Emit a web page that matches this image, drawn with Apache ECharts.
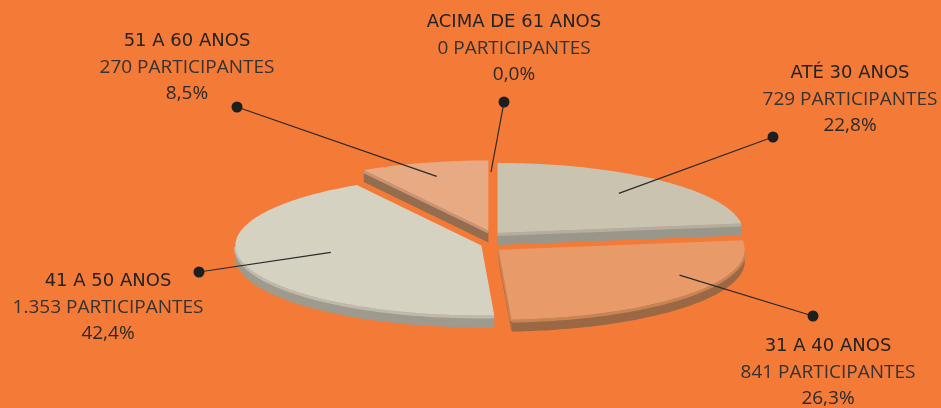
<!DOCTYPE html>
<html><head><meta charset="utf-8">
<script src="https://cdn.jsdelivr.net/npm/echarts@6/dist/echarts.min.js"></script>
<style>html,body{margin:0;padding:0;background:#F47A38}#c{width:941px;height:408px}</style>
</head><body><div id="c"></div>
<script>
// ---- data ----
const categories = ['ATÉ 30 ANOS', '31 A 40 ANOS', '41 A 50 ANOS', '51 A 60 ANOS', 'ACIMA DE 61 ANOS'];
const participants = [729, 841, 1353, 270, 0];

// ---- style / layout ----
const topColors  = ['#C9C3AF', '#E89A68', '#D6D2C2', '#E8AA82', '#E8AA82'];
const sideColors = ['#9A968A', '#9B6843', '#9E9A8E', '#946C50', '#946C50'];
const rimColors  = ['#B3AE9F', '#C98456', '#BDB9AB', '#C99473', '#C99473'];
const labelPos   = [[850, 73], [828, 346], [108, 281], [187, 41], [514, 22]];
const dotPos     = [[773, 137], [813, 316], [199, 272], [237, 107], [504, 102]];
const anchorT    = [0.5, 0.36, 0.55, 0.5, 1];
const anchorR    = [0.75, 0.82, 0.62, 0.8, 1];
const CX = 491, CY = 242, RX = 246, RY = 70, DEPTH = 12, EX = 10, EY = 12;
const LINE_GAP = 26.5;
const FONT = '"Open Sans", "Noto Sans", sans-serif';
const HEAD_FONT = '"DejaVu Sans", "Open Sans", sans-serif';

const total = participants.reduce((a, b) => a + b, 0);
const fmtInt = v => String(v).replace(/\B(?=(\d{3})+(?!\d))/g, '.');
const fmtPct = v => (v / total * 100).toFixed(1).replace('.', ',') + '%';

// cumulative angles (degrees, clockwise from 12 o'clock)
const angles = [];
{ let acc = 0; participants.forEach(v => { const a = acc / total * 360; acc += v; angles.push([a, acc / total * 360]); }); }

const rad = d => d * Math.PI / 180;
function pt(sx, sy, deg, r, dy) {
  return [sx + RX * r * Math.sin(rad(deg)), sy - RY * r * Math.cos(rad(deg)) + (dy || 0)];
}
function arc(sx, sy, a, b, dy) {
  const pts = []; const n = Math.max(2, Math.ceil(b - a));
  for (let i = 0; i <= n; i++) pts.push(pt(sx, sy, a + (b - a) * i / n, 1, dy));
  return pts;
}

function renderItem(params, api) {
  const i = params.dataIndex;
  const v = api.value(0);
  const [a, b] = angles[i];
  const mid = (a + b) / 2;
  const children = [];
  const sx = CX + EX * Math.sin(rad(mid)) * (v > 0 ? 1 : 0);
  const sy = CY - EY * Math.cos(rad(mid)) * (v > 0 ? 1 : 0);
  if (v > 0) {
    const base = Math.round((1 - Math.cos(rad(mid))) * 100);
    const lo = Math.max(a, 90), hi = Math.min(b, 270);
    if (lo < hi) {
      const pts = arc(sx, sy, lo, hi, 0).concat(arc(sx, sy, lo, hi, DEPTH).reverse());
      children.push({ type: 'polygon', z2: base, shape: { points: pts }, style: { fill: sideColors[i] } });
      children.push({ type: 'polyline', z2: base + 1, shape: { points: arc(sx, sy, lo, hi, 1.5) }, style: { stroke: rimColors[i], lineWidth: 3, fill: null } });
    }
    if (a > 180 && a < 360) {
      const p = pt(sx, sy, a, 1);
      children.push({ type: 'polygon', z2: base, shape: { points: [[sx, sy], p, [p[0], p[1] + DEPTH], [sx, sy + DEPTH]] }, style: { fill: sideColors[i] } });
      children.push({ type: 'line', z2: base + 1, shape: { x1: sx, y1: sy + 1.5, x2: p[0], y2: p[1] + 1.5 }, style: { stroke: rimColors[i], lineWidth: 3 } });
    }
    if (b > 0 && b < 180) {
      const p = pt(sx, sy, b, 1);
      children.push({ type: 'polygon', z2: base, shape: { points: [[sx, sy], p, [p[0], p[1] + DEPTH], [sx, sy + DEPTH]] }, style: { fill: sideColors[i] } });
      children.push({ type: 'line', z2: base + 1, shape: { x1: sx, y1: sy + 1.5, x2: p[0], y2: p[1] + 1.5 }, style: { stroke: rimColors[i], lineWidth: 3 } });
    }
    const topPts = [[sx, sy]].concat(arc(sx, sy, a, b, 0));
    children.push({ type: 'polygon', z2: base + 2, shape: { points: topPts }, style: { fill: topColors[i] } });
  }
  const ang = a + (b - a) * anchorT[i];
  const anc = pt(sx, sy, ang, anchorR[i]);
  const dot = dotPos[i];
  children.push({ type: 'line', z2: 1000, shape: { x1: dot[0], y1: dot[1], x2: anc[0], y2: anc[1] }, style: { stroke: '#2a2a2a', lineWidth: 1.2 } });
  children.push({ type: 'circle', z2: 1001, shape: { cx: dot[0], cy: dot[1], r: 5.5 }, style: { fill: '#1e1e1e' } });
  const lp = labelPos[i];
  const lines = [
    { t: categories[i], f: HEAD_FONT, s: 18, c: '#232323' },
    { t: fmtInt(v) + ' PARTICIPANTES', f: FONT, s: 19, c: '#333333' },
    { t: fmtPct(v), f: FONT, s: 19, c: '#2a2a2a' }
  ];
  lines.forEach((L, k) => {
    children.push({ type: 'text', z2: 1002, style: {
      text: L.t, x: lp[0], y: lp[1] + k * LINE_GAP, align: 'center', verticalAlign: 'middle',
      fill: L.c, fontSize: L.s, fontFamily: L.f, fontWeight: 'normal'
    } });
  });
  return { type: 'group', children };
}

const chart = echarts.init(document.getElementById('c'), null, { renderer: 'canvas' });
chart.setOption({
  backgroundColor: '#F47A38',
  animation: false,
  series: [{
    type: 'custom',
    coordinateSystem: 'none',
    renderItem,
    data: participants.map((v, i) => ({ name: categories[i], value: [v] }))
  }]
});
</script></body></html>
